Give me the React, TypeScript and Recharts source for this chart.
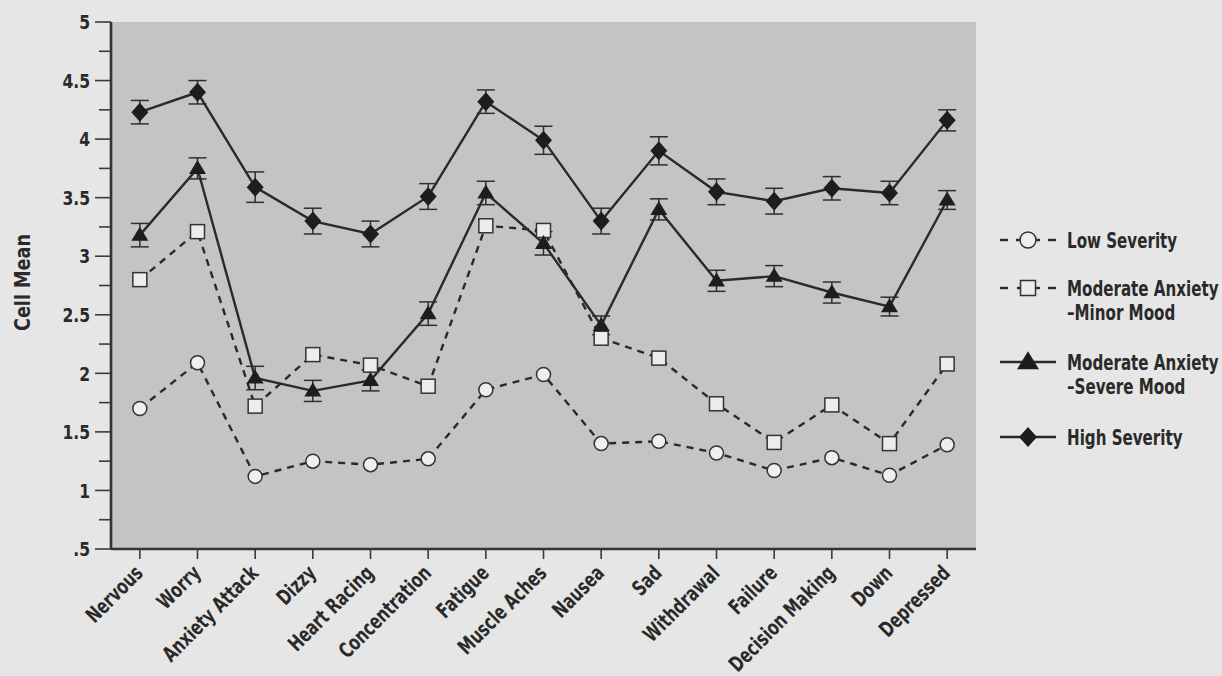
import React from 'react';
import { LineChart, Line, XAxis, YAxis, CartesianGrid, ErrorBar, Legend } from 'recharts';

const categories = [
  'Nervous', 'Worry', 'Anxiety Attack', 'Dizzy', 'Heart Racing', 'Concentration', 'Fatigue',
  'Muscle Aches', 'Nausea', 'Sad', 'Withdrawal', 'Failure', 'Decision Making', 'Down', 'Depressed',
];
const lowSeverity = [1.70, 2.09, 1.12, 1.25, 1.22, 1.27, 1.86, 1.99, 1.40, 1.42, 1.32, 1.17, 1.28, 1.13, 1.39];
const moderateMinor = [2.80, 3.21, 1.72, 2.16, 2.07, 1.89, 3.26, 3.22, 2.30, 2.13, 1.74, 1.41, 1.73, 1.40, 2.08];
const moderateSevere = [3.18, 3.75, 1.96, 1.85, 1.94, 2.51, 3.54, 3.11, 2.41, 3.40, 2.79, 2.83, 2.69, 2.57, 3.48];
const moderateSevereErr = [0.10, 0.09, 0.10, 0.09, 0.09, 0.10, 0.10, 0.10, 0.08, 0.09, 0.09, 0.09, 0.09, 0.08, 0.08];
const highSeverity = [4.23, 4.40, 3.59, 3.30, 3.19, 3.51, 4.32, 3.99, 3.30, 3.90, 3.55, 3.47, 3.58, 3.54, 4.16];
const highSeverityErr = [0.10, 0.10, 0.13, 0.11, 0.11, 0.11, 0.10, 0.12, 0.11, 0.12, 0.11, 0.11, 0.10, 0.10, 0.09];

const yTicks = [0.5, 0.75, 1, 1.25, 1.5, 1.75, 2, 2.25, 2.5, 2.75, 3, 3.25, 3.5, 3.75, 4, 4.25, 4.5, 4.75, 5];
const yMajorLabels: Record<string, string> = {
  '0.5': '.5', '1': '1', '1.5': '1.5', '2': '2', '2.5': '2.5', '3': '3', '3.5': '3.5', '4': '4', '4.5': '4.5', '5': '5',
};

const seriesNames = {
  low: 'Low Severity',
  minor: ['Moderate Anxiety', '\u2013Minor Mood'],
  severe: ['Moderate Anxiety', '\u2013Severe Mood'],
  high: 'High Severity',
};

const data = categories.map((cat, i) => ({
  cat,
  low: lowSeverity[i],
  minor: moderateMinor[i],
  severe: moderateSevere[i],
  severeErr: moderateSevereErr[i],
  high: highSeverity[i],
  highErr: highSeverityErr[i],
}));

const FONT = "'DejaVu Sans', sans-serif";
const INK = '#2a2a2a';
const PAGE = '#e6e6e6';
const PLOT = '#c4c4c4';

// condensed bold text: the reference uses a narrow face, emulated by horizontal scaling
const NarrowText = ({ x, y, angle = 0, sx, size, anchor = 'start', children }: any) => (
  <g transform={`translate(${x},${y}) rotate(${angle}) scale(${sx},1)`}>
    <text
      x={0}
      y={0}
      dy="0.36em"
      textAnchor={anchor}
      fontFamily={FONT}
      fontWeight="bold"
      fontSize={size}
      fill={INK}
    >
      {children}
    </text>
  </g>
);

const Circle = ({ cx, cy, r = 7 }: any) => (
  <circle cx={cx} cy={cy} r={r} fill="#efefef" stroke="#333" strokeWidth={1.5} />
);
const Square = ({ cx, cy, s = 14 }: any) => (
  <rect x={cx - s / 2} y={cy - s / 2} width={s} height={s} fill="#ececec" stroke="#333" strokeWidth={1.5} />
);
const Triangle = ({ cx, cy, w = 17, h = 14 }: any) => (
  <polygon
    points={`${cx},${cy - h * 0.6} ${cx + w / 2},${cy + h * 0.4} ${cx - w / 2},${cy + h * 0.4}`}
    fill="#1d1d1d"
  />
);
const Diamond = ({ cx, cy, w = 17, h = 19 }: any) => (
  <polygon
    points={`${cx},${cy - h / 2} ${cx + w / 2},${cy} ${cx},${cy + h / 2} ${cx - w / 2},${cy}`}
    fill="#1d1d1d"
  />
);

const XTick = ({ x, y, payload }: any) => (
  <NarrowText x={x - 1} y={y + 8} angle={-45} sx={0.72} size={21} anchor="end">
    {payload.value}
  </NarrowText>
);

const YTick = ({ x, y, payload }: any) => {
  const label = yMajorLabels[String(payload.value)];
  const major = label !== undefined;
  return (
    <g>
      <line x1={x - (major ? 16 : 12)} y1={y} x2={x} y2={y} stroke="#3a3a3a" strokeWidth={1.6} />
      {major && (
        <NarrowText x={x - 21} y={y} sx={0.78} size={20} anchor="end">
          {label}
        </NarrowText>
      )}
    </g>
  );
};

const YLabel = ({ viewBox }: any) => (
  <NarrowText x={22} y={viewBox.y + viewBox.height / 2 - 3} angle={-90} sx={0.84} size={21} anchor="middle">
    Cell Mean
  </NarrowText>
);

const LegendContent = () => {
  const x0 = 10;
  const x1 = 66;
  const mx = 38;
  const tx = 77;
  const txt = (y: number, s: string) => (
    <NarrowText x={tx} y={y} sx={0.72} size={21}>
      {s}
    </NarrowText>
  );
  return (
    <svg width={232} height={240} style={{ overflow: 'visible' }}>
      <line x1={x0} y1={20} x2={x0 + 8} y2={20} stroke={INK} strokeWidth={2.4} />
      <line x1={x1 - 8} y1={20} x2={x1} y2={20} stroke={INK} strokeWidth={2.4} />
      <line x1={mx - 12} y1={20} x2={mx + 12} y2={20} stroke={INK} strokeWidth={2.4} />
      <Circle cx={mx} cy={20} r={8} />
      {txt(20, seriesNames.low)}

      <line x1={x0} y1={68} x2={x0 + 8} y2={68} stroke={INK} strokeWidth={2.4} />
      <line x1={x0 + 17} y1={68} x2={x0 + 24} y2={68} stroke={INK} strokeWidth={2.4} />
      <line x1={mx + 8} y1={68} x2={mx + 12} y2={68} stroke={INK} strokeWidth={2.4} />
      <line x1={x1 - 8} y1={68} x2={x1} y2={68} stroke={INK} strokeWidth={2.4} />
      <Square cx={mx} cy={68} s={15} />
      {txt(68, seriesNames.minor[0])}
      {txt(92, seriesNames.minor[1])}

      <line x1={x0} y1={142} x2={x1} y2={142} stroke={INK} strokeWidth={2.4} />
      <Triangle cx={mx} cy={142} w={22} h={18} />
      {txt(142, seriesNames.severe[0])}
      {txt(166, seriesNames.severe[1])}

      <line x1={x0} y1={217} x2={x1} y2={217} stroke={INK} strokeWidth={2.4} />
      <Diamond cx={mx} cy={217} w={18} h={20} />
      {txt(217, seriesNames.high)}
    </svg>
  );
};

export default function App() {
  return (
    <div
      style={{
        position: 'absolute',
        left: 0,
        top: 0,
        width: 1222,
        height: 676,
        background: PAGE,
        overflow: 'hidden',
      }}
    >
      <LineChart
        width={1222}
        height={676}
        data={data}
        margin={{ top: 22, right: 246, bottom: 0, left: 0 }}
      >
        <CartesianGrid horizontal={false} vertical={false} fill={PLOT} />
        <XAxis
          dataKey="cat"
          interval={0}
          height={127}
          scale="band"
          axisLine={{ stroke: '#333', strokeWidth: 2.6 }}
          tickLine={{ stroke: '#3a3a3a', strokeWidth: 1.6 }}
          tickSize={10}
          tick={<XTick />}
        />
        <YAxis
          type="number"
          domain={[0.5, 5]}
          ticks={yTicks}
          interval={0}
          width={111}
          axisLine={{ stroke: '#333', strokeWidth: 2.6 }}
          tickLine={false}
          tickSize={0}
          tickMargin={0}
          tick={<YTick />}
          label={<YLabel />}
          allowDataOverflow
        />
        <Legend
          layout="vertical"
          align="center"
          verticalAlign="middle"
          content={<LegendContent />}
          wrapperStyle={{ position: 'absolute', left: 990, top: 220, width: 232, height: 240 }}
        />
        <Line
          type="linear"
          dataKey="low"
          name={seriesNames.low}
          stroke={INK}
          strokeWidth={2.4}
          strokeDasharray="7 6"
          isAnimationActive={false}
          dot={(p: any) => <Circle key={`lo-${p.index}`} cx={p.cx} cy={p.cy} />}
          activeDot={false}
        />
        <Line
          type="linear"
          dataKey="minor"
          name={seriesNames.minor.join(' ')}
          stroke={INK}
          strokeWidth={2.4}
          strokeDasharray="7 6"
          isAnimationActive={false}
          dot={(p: any) => <Square key={`mi-${p.index}`} cx={p.cx} cy={p.cy} />}
          activeDot={false}
        />
        <Line
          type="linear"
          dataKey="severe"
          name={seriesNames.severe.join(' ')}
          stroke={INK}
          strokeWidth={2.4}
          isAnimationActive={false}
          dot={(p: any) => <Triangle key={`se-${p.index}`} cx={p.cx} cy={p.cy} />}
          activeDot={false}
        >
          <ErrorBar dataKey="severeErr" direction="y" width={9} stroke="#2f2f2f" strokeWidth={1.5} />
        </Line>
        <Line
          type="linear"
          dataKey="high"
          name={seriesNames.high}
          stroke={INK}
          strokeWidth={2.4}
          isAnimationActive={false}
          dot={(p: any) => <Diamond key={`hi-${p.index}`} cx={p.cx} cy={p.cy} />}
          activeDot={false}
        >
          <ErrorBar dataKey="highErr" direction="y" width={9} stroke="#2f2f2f" strokeWidth={1.5} />
        </Line>
      </LineChart>
    </div>
  );
}
